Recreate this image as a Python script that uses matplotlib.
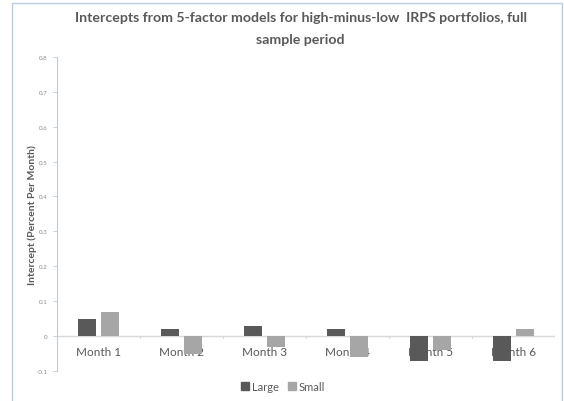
import matplotlib
matplotlib.use('Agg')
import matplotlib.pyplot as plt
import numpy as np
from matplotlib.patches import Rectangle, Patch

plt.rcParams['font.family'] = ['Lato', 'DejaVu Sans']

months = ['Month 1', 'Month 2', 'Month 3', 'Month 4', 'Month 5', 'Month 6']
large = [0.05, 0.02, 0.03, 0.02, -0.07, -0.07]
small = [0.07, -0.05, -0.03, -0.06, -0.04, 0.02]
yticks = [-0.1, 0, 0.1, 0.2, 0.3, 0.4, 0.5, 0.6, 0.7, 0.8]
yticklabels = ['-0.1', '0', '0.1', '0.2', '0.3', '0.4', '0.5', '0.6', '0.7', '0.8']

DARK = '#595959'
LIGHT = '#a6a6a6'
TEXT = '#595959'
AXIS = '#d9d9d9'
SPINE = '#b9cde0'

fig = plt.figure(figsize=(5.64, 4.02), dpi=100)
# outer chart border
fig.patches.append(Rectangle((12 / 564, -0.01), 550 / 564, 0.999, transform=fig.transFigure,
                             fill=False, ec=SPINE, lw=1.0))

ax = fig.add_axes([0.101, 0.0746, 0.883, 0.7814])
x = np.arange(len(months))
w = 0.22
ax.bar(x - 0.14, large, w, color=DARK, zorder=3, label='Large')
ax.bar(x + 0.14, small, w, color=LIGHT, zorder=3, label='Small')

ax.set_xlim(-0.5, len(months) - 0.5)
ax.set_ylim(-0.1, 0.8)

# category axis sits on the zero line, labels just under it
ax.axhline(0, color=AXIS, lw=1.0, zorder=1)
for b in np.arange(-0.5, len(months), 1.0):
    ax.plot([b, b], [0, -0.006], color=AXIS, lw=0.8, zorder=1)
for xi, lab in zip(x, months):
    ax.text(xi, -0.044, lab, ha='center', va='center', fontsize=8.5, color=TEXT, zorder=2)

for s in ['top', 'right', 'bottom']:
    ax.spines[s].set_visible(False)
ax.spines['left'].set_color(SPINE)
ax.spines['left'].set_linewidth(0.8)
ax.set_xticks([])
ax.set_yticks(yticks)
ax.set_yticklabels(yticklabels)
ax.tick_params(axis='y', labelsize=4.5, colors=SPINE, labelcolor='#8c8c8c', length=3, width=0.6, pad=4)
ax.set_ylabel('Intercept (Percent Per Month)', fontsize=7.5, color=TEXT, fontweight='bold')
ax.yaxis.set_label_coords(-0.041, 0.5)

fig.text(0.533, 0.955, 'Intercepts from 5-factor models for high-minus-low  IRPS portfolios, full',
         ha='center', va='center', fontsize=10.2, fontweight='bold', color=TEXT)
fig.text(0.533, 0.9, 'sample period', ha='center', va='center', fontsize=10.2,
         fontweight='bold', color=TEXT)

handles = [Patch(color=DARK, label='Large'), Patch(color=LIGHT, label='Small')]
fig.legend(handles=handles, loc='center', bbox_to_anchor=(0.502, 0.037), ncol=2, frameon=False,
           fontsize=8, handlelength=0.7, handleheight=0.7, handletextpad=0.3, columnspacing=0.8,
           labelcolor=TEXT)

fig.savefig('out.png', dpi=100)
